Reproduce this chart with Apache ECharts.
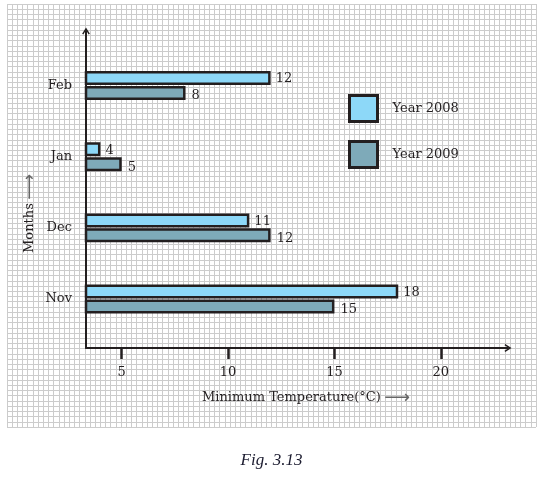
<!DOCTYPE html>
<html>
<head>
<meta charset="utf-8">
<script src="https://cdn.jsdelivr.net/npm/echarts@6/dist/echarts.min.js"></script>
<style>
    html, body { margin: 0; padding: 0; background: #fff; }
    #chart { width: 543px; height: 478px; }
</style>
</head>
<body>
<div id="chart"></div>
<script>
    // data
    const months = ['Nov', 'Dec', 'Jan', 'Feb'];
    const temp2008 = [18, 11, 4, 12];
    const temp2009 = [15, 12, 5, 8];
    const tempTicks = [5, 10, 15, 20];
    const seriesNames = ['Year 2008', 'Year 2009'];

    const ink = '#231f20';
    const serif = 'DejaVu Serif';
    // open chevron used as axis arrow head
    const arrowHead = 'path://M5,0 L10,8 L8.4,9 L5,3.6 L1.6,9 L0,8 Z';

    const myChart = echarts.init(document.getElementById('chart'));

    const labelStyle = {
        fontFamily: serif,
        fontSize: 13,
        color: ink
    };

    let option = {
        backgroundColor: '#fff',
        animation: false,
        title: {
            text: 'Fig. 3.13',
            left: 'center',
            top: 452,
            padding: 0,
            textStyle: {
                fontFamily: 'Liberation Serif',
                fontStyle: 'italic',
                fontWeight: 'normal',
                fontSize: 17,
                color: '#1c1c30'
            }
        },
        legend: {
            data: seriesNames,
            orient: 'vertical',
            left: 348,
            top: 94,
            padding: 0,
            itemWidth: 28,
            itemHeight: 26,
            itemGap: 17,
            icon: 'rect',
            selectedMode: false,
            itemStyle: {
                borderColor: ink,
                borderWidth: 3
            },
            textStyle: {
                fontFamily: serif,
                fontSize: 13,
                color: ink,
                padding: [0, 0, 0, 10]
            }
        },
        grid: [
            // graph paper
            { left: 7, right: 7, top: 4, bottom: 51 },
            // axis frame with arrows
            { left: 86, right: 35, top: 31, bottom: 130 },
            // bars
            { left: 86, right: 35, top: 50, bottom: 143.4 }
        ],
        xAxis: [{
                gridIndex: 0,
                type: 'value',
                min: 0,
                max: 102,
                interval: 1,
                axisLine: { show: false },
                axisTick: { show: false },
                axisLabel: { show: false },
                splitLine: {
                    lineStyle: { color: '#cccccc', width: 1 }
                }
            },
            {
                gridIndex: 1,
                type: 'value',
                min: 3.32,
                max: 23.16,
                axisLine: {
                    show: true,
                    onZero: false,
                    symbol: ['none', arrowHead],
                    symbolSize: [9, 7],
                    lineStyle: { color: ink, width: 2 }
                },
                axisTick: {
                    show: true,
                    customValues: tempTicks,
                    length: 11,
                    lineStyle: { color: ink, width: 2.5 }
                },
                axisLabel: {
                    customValues: tempTicks,
                    margin: 18,
                    fontFamily: serif,
                    fontSize: 13,
                    color: ink
                },
                splitLine: { show: false },
                name: '{t|Minimum Temperature(°C)} {a|⟶}',
                nameLocation: 'middle',
                nameGap: 41,
                nameTextStyle: {
                    padding: [0, 0, 0, 18],
                    rich: {
                        t: { fontFamily: serif, fontSize: 13, color: ink },
                        a: { fontFamily: 'DejaVu Sans', fontSize: 18, color: '#666' }
                    }
                }
            },
            {
                gridIndex: 2,
                type: 'value',
                min: 3.32,
                max: 23.16,
                show: false
            }
        ],
        yAxis: [{
                gridIndex: 0,
                type: 'value',
                min: 0,
                max: 81,
                interval: 1,
                axisLine: { show: false },
                axisTick: { show: false },
                axisLabel: { show: false },
                splitLine: {
                    lineStyle: { color: '#cccccc', width: 1 }
                }
            },
            {
                gridIndex: 1,
                type: 'value',
                min: 0,
                max: 1,
                axisLine: {
                    show: true,
                    onZero: false,
                    symbol: ['none', arrowHead],
                    symbolSize: [9, 7],
                    lineStyle: { color: ink, width: 2 }
                },
                axisTick: { show: false },
                axisLabel: { show: false },
                splitLine: { show: false },
                name: '{t|Months} {a|⟶}',
                nameLocation: 'middle',
                nameRotate: 90,
                nameGap: 47,
                nameTextStyle: {
                    padding: [0, 48, 0, 0],
                    rich: {
                        t: { fontFamily: serif, fontSize: 13, color: ink },
                        a: { fontFamily: 'DejaVu Sans', fontSize: 18, color: '#666' }
                    }
                }
            },
            {
                gridIndex: 2,
                type: 'category',
                data: months,
                axisLine: { show: false },
                axisTick: { show: false },
                axisLabel: {
                    margin: 14,
                    padding: [6, 0, 0, 0],
                    fontFamily: serif,
                    fontSize: 13,
                    color: ink
                },
                splitLine: { show: false }
            }
        ],
        series: [{
                name: seriesNames[0],
                type: 'bar',
                xAxisIndex: 2,
                yAxisIndex: 2,
                data: temp2008,
                barWidth: 14,
                barGap: '7%',
                itemStyle: {
                    color: '#8dd8f8',
                    borderColor: ink,
                    borderWidth: 2.5
                },
                label: Object.assign({
                    show: true,
                    position: 'right',
                    distance: 5,
                    offset: [0, 1]
                }, labelStyle)
            },
            {
                name: seriesNames[1],
                type: 'bar',
                xAxisIndex: 2,
                yAxisIndex: 2,
                data: temp2009,
                barWidth: 14,
                itemStyle: {
                    color: '#7eaab9',
                    borderColor: ink,
                    borderWidth: 2.5
                },
                label: Object.assign({
                    show: true,
                    position: 'right',
                    distance: 6,
                    offset: [0, 3]
                }, labelStyle)
            }
        ]
    };
    myChart.setOption(option);
</script>
</body>
</html>
